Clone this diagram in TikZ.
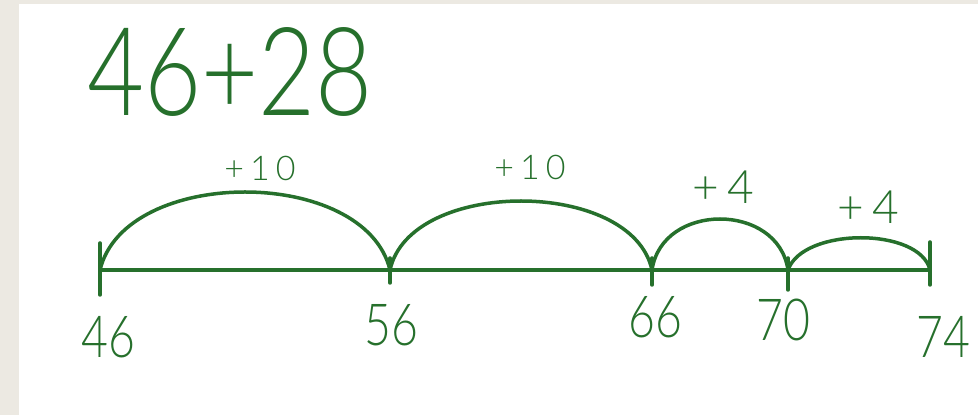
\documentclass[tikz,border=0pt]{standalone}
\usepackage{fontspec}
\setmainfont{Lato}
\newfontfamily\hand[FakeStretch=0.8, UprightFont=* Light]{Lato}
\newfontfamily\wide[LetterSpace=18, UprightFont=* Light]{Lato}
\usepackage{tikz}
\definecolor{pen}{RGB}{38,112,44}
\definecolor{frame}{RGB}{236,233,226}

\begin{document}
\begin{tikzpicture}[
    x=1pt, y=1pt,
    line width=3.5pt, line cap=round, line join=round,
    num/.style={text=pen, inner sep=0pt, font=\hand\fontsize{58}{58}\selectfont},
    jump/.style={text=pen, inner sep=0pt, font=\wide\fontsize{34}{34}\selectfont},
    hop/.style={draw=pen} % Bögen und Zahlenstrahl
]
\useasboundingbox (0,0) rectangle (978,415);
\fill[frame] (0,0) rectangle (978,415);
\fill[white] (19,0) rectangle (978,411);

\node[text=pen, inner sep=0pt, font=\hand\fontsize{123}{123}\selectfont] (task) at (230,343) {46+28};

\coordinate (p46) at (100,145);
\coordinate (p56) at (390,145);
\coordinate (p66) at (652,145);
\coordinate (p70) at (788,145);
\coordinate (p74) at (930,145);

\draw[hop] (p46) -- (p74);
\foreach \p/\a/\b in {46/27/25, 56/12/13, 66/12/15, 70/12/20, 74/28/15}
    \draw[hop] ([yshift=\a] p\p) -- ([yshift=-\b] p\p);

\draw[hop] (p46) .. controls +(25,104) and +(-25,104) .. (p56);
\draw[hop] (p56) .. controls +(20,92) and +(-20,92) .. (p66);
\draw[hop] (p66) .. controls +(10,68) and +(-10,68) .. (p70);
\draw[hop] (p70) .. controls +(15,43) and +(-10,43) .. (p74);

\node[jump] (j1) at (260,247) {+10};
\node[jump] (j2) at (530,248) {+10};
\node[jump, font=\wide\fontsize{46}{46}\selectfont] (j3) at (723,228) {+4};
\node[jump, font=\wide\fontsize{46}{46}\selectfont] (j4) at (868,208) {+4};

\node[num] (l46) at (108,78) {46};
\node[num] (l56) at (391,90) {56};
\node[num] (l66) at (655,98) {66};
\node[num] (l70) at (783,95) {70};
\node[num] (l74) at (943,78) {74};
\end{tikzpicture}
\end{document}
